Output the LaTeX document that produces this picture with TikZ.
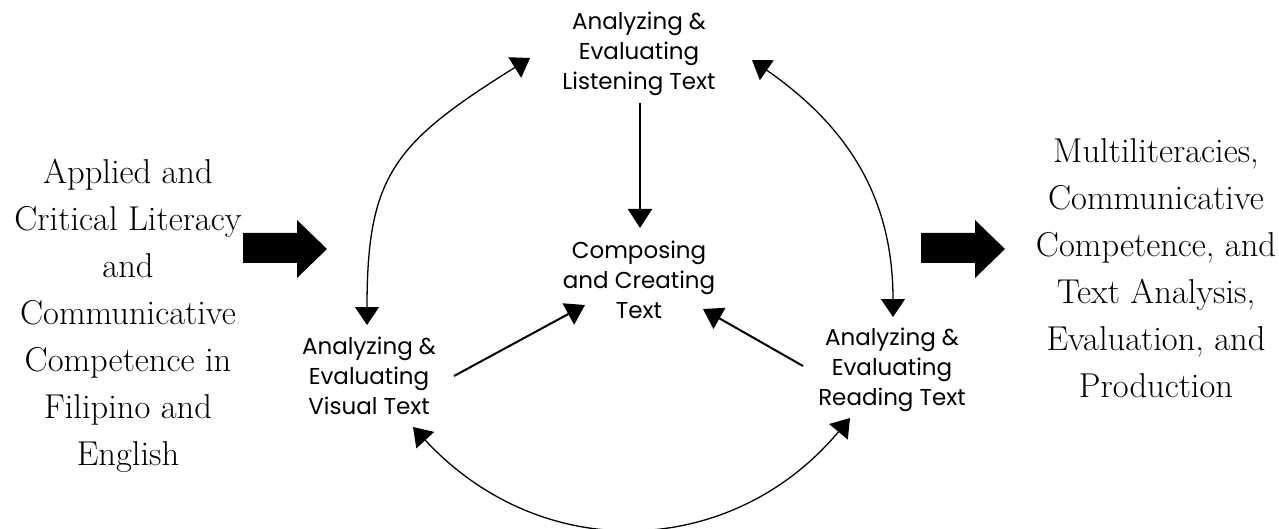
\documentclass[tikz,border=0pt]{standalone}
\usepackage{fontspec}
\setsansfont{Poppins}
\usetikzlibrary{arrows.meta}
\begin{document}
\begin{tikzpicture}[x=1pt,y=-1pt,
  sanslbl/.style={font=\sffamily\fontsize{23}{30}\selectfont,align=center,anchor=base,inner sep=0pt},
  seriflbl/.style={font=\rmfamily\fontsize{34.5}{47}\selectfont,align=center,anchor=base,inner sep=0pt},
  link/.style={line width=2pt,-{Triangle[length=19pt,width=24pt]}},
  loop/.style={line width=1.3pt,{Triangle[length=18pt,width=24pt]}-{Triangle[length=18pt,width=24pt]}},
  bigarrow/.style={fill=black}]
\useasboundingbox (0,0) rectangle (1279,529);
\fill[white] (0,0) rectangle (1279,529);
% texts (anchor = baseline of the last line)
\node[seriflbl] (inp) at (128,465) {Applied and\\Critical Literacy\\and\\Communicative\\Competence in\\Filipino and\\English};
\node[seriflbl] (out) at (1156,397) {Multiliteracies,\\Communicative\\Competence, and\\Text Analysis,\\Evaluation, and\\Production};
\node[sanslbl] (lis) at (639,90) {Analyzing \&\\Evaluating\\Listening Text};
\node[sanslbl] (com) at (639,318) {Composing\\and Creating\\Text};
\node[sanslbl] (vis) at (369,414) {Analyzing \&\\Evaluating\\Visual Text};
\node[sanslbl] (rea) at (892,405) {Analyzing \&\\Evaluating\\Reading Text};
% connector end points
\coordinate (lisB) at (640,103);
\coordinate (comT) at (640,228);
\coordinate (visR) at (454,376);
\coordinate (comL) at (585,305);
\coordinate (reaL) at (803,366);
\coordinate (comR) at (703,309);
\coordinate (visT) at (367,325);
\coordinate (lisL) at (530,58);
\coordinate (lisR) at (752,60);
\coordinate (reaT) at (893,317);
\coordinate (visB) at (413,427);
\coordinate (reaB) at (850,418);
% straight arrows
\draw[link] (lisB) -- (comT);
\draw[link] (visR) -- (comL);
\draw[link] (reaL) -- (comR);
% curved double arrows
\draw[loop] (visT) .. controls (367,175) and (394,143) .. (lisL);
\draw[loop] (lisR) .. controls (850,128) and (893,200) .. (reaT);
\draw[loop] (visB) .. controls (543,567) and (733,558) .. (reaB);
% big block arrows
\fill[bigarrow] (243,233) -- (297,233) -- (297,220) -- (327,249) -- (297,278) -- (297,263) -- (243,263) -- cycle;
\fill[bigarrow] (921,233) -- (975,233) -- (975,220) -- (1005,249) -- (975,278) -- (975,263) -- (921,263) -- cycle;
\end{tikzpicture}
\end{document}
